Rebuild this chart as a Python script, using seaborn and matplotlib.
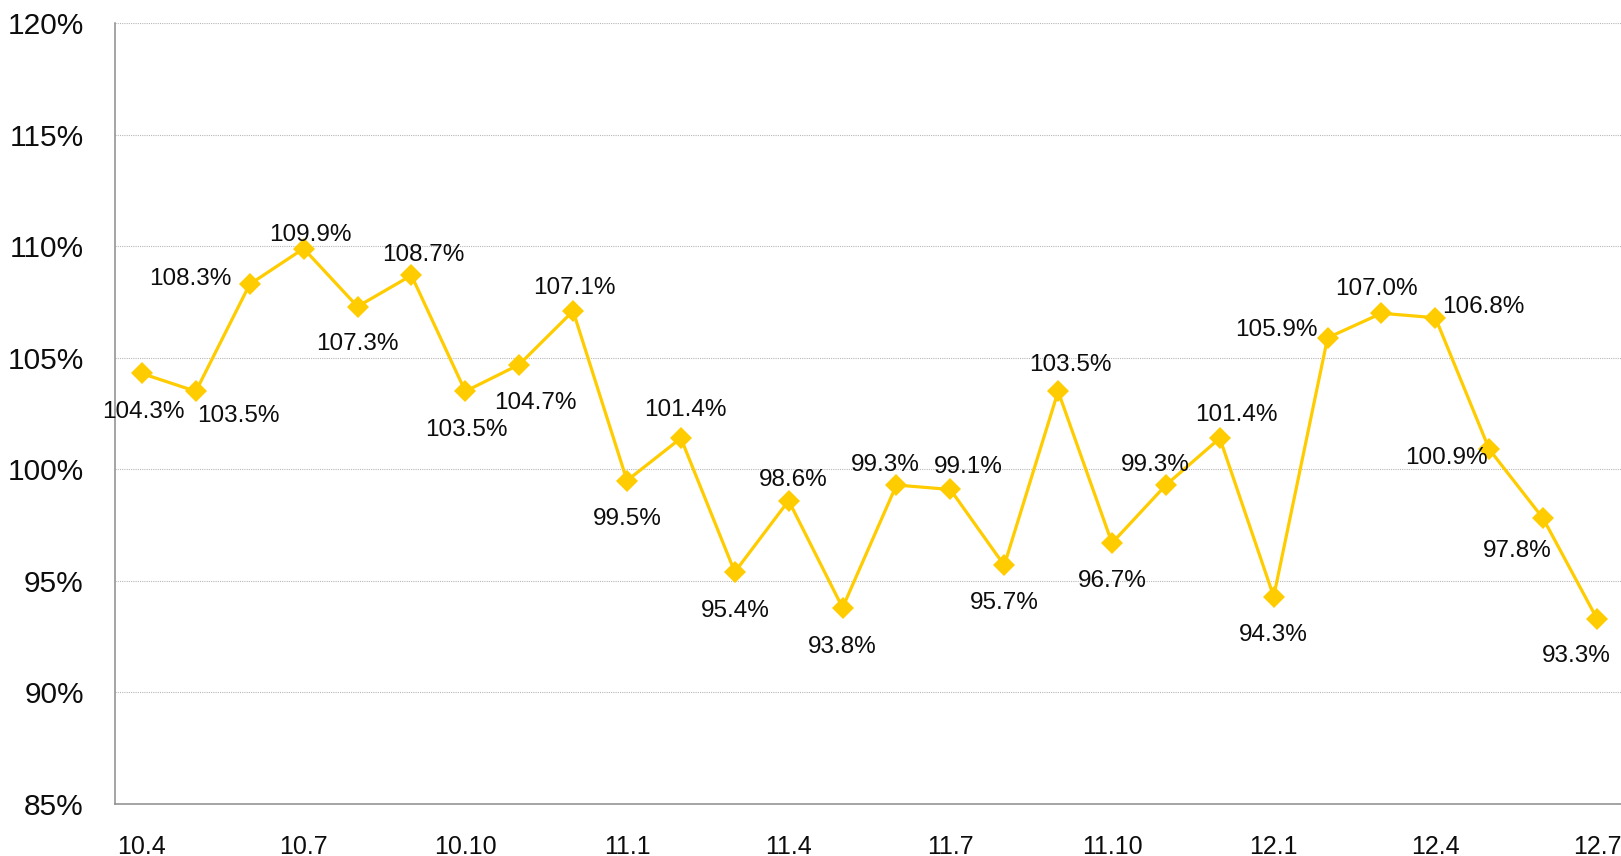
import numpy as np
import pandas as pd
import seaborn as sns
import matplotlib.pyplot as plt
from matplotlib.ticker import FixedLocator, PercentFormatter

# Monthly values (%), 10.4 through 12.7
months = ["10.4", "10.5", "10.6", "10.7", "10.8", "10.9", "10.10", "10.11", "10.12",
          "11.1", "11.2", "11.3", "11.4", "11.5", "11.6", "11.7", "11.8", "11.9",
          "11.10", "11.11", "11.12", "12.1", "12.2", "12.3", "12.4", "12.5", "12.6", "12.7"]
values = [104.3, 103.5, 108.3, 109.9, 107.3, 108.7, 103.5, 104.7, 107.1,
          99.5, 101.4, 95.4, 98.6, 93.8, 99.3, 99.1, 95.7, 103.5,
          96.7, 99.3, 101.4, 94.3, 105.9, 107.0, 106.8, 100.9, 97.8, 93.3]
y_ticks = [85, 90, 95, 100, 105, 110, 115, 120]

# label placement relative to each marker, in pixels
label_offsets = [(1, -39), (43, -25), (-59, 5), (7, 14), (0, -37), (12, 20), (1, -39),
                 (16, -38), (1, 23), (0, -38), (5, 28), (1, -39), (5, 21), (0, -39),
                 (-11, 20), (18, 22), (0, -38), (12, 26), (0, -38), (-11, 20), (17, 23),
                 (0, -38), (-51, 8), (-5, 24), (48, 11), (-43, -9), (-26, -33), (-21, -37)]

df = pd.DataFrame({"pos": np.arange(len(months)), "month": months, "value": values})

sns.set_style("white")
plt.rcParams["font.family"] = ["Liberation Sans", "DejaVu Sans"]

LINE_COLOR = "#FFCC00"
AXIS_COLOR = "#8c8c8c"
TEXT_COLOR = "#0d0d0d"

fig = plt.figure(figsize=(16.21, 8.56), dpi=100)
ax = fig.add_axes([115 / 1621, 1 - 804 / 856, 1509 / 1621, (804 - 23.3) / 856])

sns.lineplot(data=df, x="pos", y="value", ax=ax, color=LINE_COLOR, linewidth=2.3,
             marker="D", markersize=11, markeredgecolor=LINE_COLOR, markeredgewidth=0)

for i, row in df.iterrows():
    ax.annotate(f"{row['value']:.1f}%", (row["pos"], row["value"]),
                xytext=label_offsets[i], textcoords="offset pixels",
                ha="center", va="center", fontsize=17.5, color=TEXT_COLOR)

ax.set_xlim(-0.5, len(months) - 0.5)
ax.set_ylim(85, 120)
ax.set_yticks(y_ticks)
ax.yaxis.set_major_formatter(PercentFormatter(decimals=0))
ax.grid(axis="y", color="#b8b8b8", linestyle=(0, (1, 1)), linewidth=0.8)
ax.set_axisbelow(True)

# boundaries between months get tick marks, every third month gets a label
ax.xaxis.set_major_locator(FixedLocator(np.arange(len(months) + 1) - 0.5))
ax.xaxis.set_major_formatter(plt.NullFormatter())
label_pos = list(range(0, len(months), 3))
ax.xaxis.set_minor_locator(FixedLocator(label_pos))
ax.set_xticklabels([months[p] for p in label_pos], minor=True)
ax.tick_params(axis="x", which="major", length=7.5, width=1.1, color=AXIS_COLOR, direction="out")
ax.tick_params(axis="x", which="minor", length=0, pad=22, labelsize=18, labelcolor=TEXT_COLOR)
ax.tick_params(axis="y", length=8.5, width=1.1, color=AXIS_COLOR, direction="out",
               pad=14, labelsize=21.5, labelcolor=TEXT_COLOR)

ax.set_xlabel("")
ax.set_ylabel("")
for side in ["top", "right"]:
    ax.spines[side].set_visible(False)
for side in ["left", "bottom"]:
    ax.spines[side].set_color(AXIS_COLOR)
    ax.spines[side].set_linewidth(1.1)

fig.savefig("out.png", dpi=100)
